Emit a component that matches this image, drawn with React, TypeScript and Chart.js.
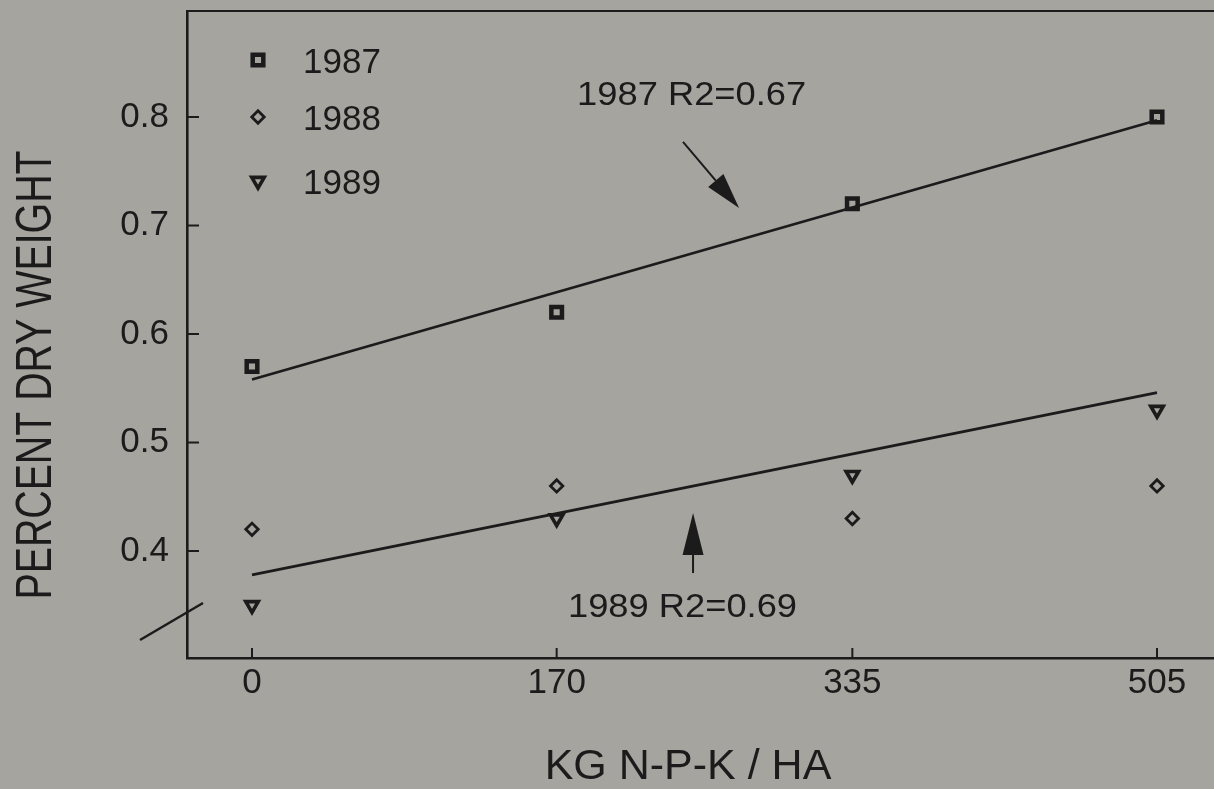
import React, { useEffect, useRef } from 'react';
import { Chart, registerables } from 'chart.js';
import { drawPoint } from 'chart.js/helpers';

Chart.register(...registerables);

// Fertilizer rates (kg N-P-K / ha) and dry-weight percentages per season
const rates = [0, 170, 335, 505];
const years = ['1987', '1988', '1989'];
const dry1987 = [0.57, 0.62, 0.72, 0.80];
const dry1988 = [0.42, 0.46, 0.43, 0.46];
const dry1989 = [0.35, 0.43, 0.47, 0.53];

// Fitted regression lines (value at first and last rate)
const fitRates = [0, 505];
const fit1987 = [0.558, 0.797];
const fit1989 = [0.378, 0.546];
const fitLabels = ['1987 R2=0.67', '1989 R2=0.69'];

const xTicks = [0, 170, 335, 505];
const yTicks = [0.4, 0.5, 0.6, 0.7, 0.8];
const xTitle = 'KG N-P-K / HA';
const yTitle = 'PERCENT DRY WEIGHT';

const INK = '#1b1b1b';
const PAPER = '#a6a49f';
const FONT = '"Liberation Sans", Arial, Helvetica, sans-serif';

const X_MIN = -36.27;
const X_MAX = 536.8;
const Y_MIN = 0.3014;
const Y_MAX = 0.8977;

const markers = [
  { pointStyle: 'rect', radius: 7.5, rotation: 0, borderWidth: 4.5 },
  { pointStyle: 'rectRot', radius: 6.2, rotation: 0, borderWidth: 2.8 },
  { pointStyle: 'triangle', radius: 7.2, rotation: 180, borderWidth: 3.6 },
];

const series = [dry1987, dry1988, dry1989];

function text(
  ctx: CanvasRenderingContext2D,
  str: string,
  x: number,
  y: number,
  size: number,
  align: CanvasTextAlign,
  sx = 1,
  rot = 0
) {
  ctx.save();
  ctx.translate(x, y);
  if (rot) ctx.rotate(rot);
  ctx.scale(sx, 1);
  ctx.font = `${size}px ${FONT}`;
  ctx.fillStyle = INK;
  ctx.textAlign = align;
  ctx.textBaseline = 'alphabetic';
  // baseline placed so that cap height is centred on y
  ctx.fillText(str, 0, size * 0.358);
  ctx.restore();
}

function arrow(
  ctx: CanvasRenderingContext2D,
  x0: number,
  y0: number,
  x1: number,
  y1: number,
  head: number,
  half: number
) {
  const a = Math.atan2(y1 - y0, x1 - x0);
  const bx = x1 - Math.cos(a) * head;
  const by = y1 - Math.sin(a) * head;
  ctx.beginPath();
  ctx.moveTo(x0, y0);
  ctx.lineTo(bx, by);
  ctx.stroke();
  ctx.beginPath();
  ctx.moveTo(x1, y1);
  ctx.lineTo(bx + Math.sin(a) * half, by - Math.cos(a) * half);
  ctx.lineTo(bx - Math.sin(a) * half, by + Math.cos(a) * half);
  ctx.closePath();
  ctx.fill();
}

const noPadding = (s: any) => {
  s.paddingTop = 0;
  s.paddingBottom = 0;
  s.paddingLeft = 0;
  s.paddingRight = 0;
};

const decorations = {
  id: 'decorations',
  afterDraw(chart: any) {
    const { ctx, chartArea: area, scales } = chart;
    const xs = scales.x;
    const ys = scales.y;
    const px = (v: number) => xs.getPixelForValue(v);
    const py = (v: number) => ys.getPixelForValue(v);

    ctx.save();
    ctx.strokeStyle = INK;
    ctx.fillStyle = INK;
    ctx.lineCap = 'butt';

    // top frame line
    ctx.lineWidth = 2;
    ctx.beginPath();
    ctx.moveTo(area.left, area.top);
    ctx.lineTo(area.right, area.top);
    ctx.stroke();

    // inward tick marks
    ctx.lineWidth = 2;
    yTicks.forEach((v) => {
      ctx.beginPath();
      ctx.moveTo(area.left, py(v));
      ctx.lineTo(area.left + 12, py(v));
      ctx.stroke();
    });
    xTicks.forEach((v) => {
      ctx.beginPath();
      ctx.moveTo(px(v), area.bottom);
      ctx.lineTo(px(v), area.bottom - 10);
      ctx.stroke();
    });

    // axis break mark
    ctx.lineWidth = 2.5;
    ctx.beginPath();
    ctx.moveTo(area.left - 47, area.bottom - 18);
    ctx.lineTo(area.left + 16, area.bottom - 55);
    ctx.stroke();

    // regression annotations
    ctx.lineWidth = 2;
    arrow(ctx, px(240.5), py(0.777), px(271.8), py(0.7161), 36, 10);
    arrow(ctx, px(246.1), py(0.3797), px(246.1), py(0.435), 42, 10.5);
    text(ctx, fitLabels[0], px(181.4), py(0.8221), 33, 'left', 1.1);
    text(ctx, fitLabels[1], px(176.3), py(0.3502), 33, 'left', 1.1);

    // legend
    const legendY = [60, 117, 181];
    years.forEach((yr, i) => {
      ctx.save();
      ctx.strokeStyle = INK;
      ctx.fillStyle = PAPER;
      ctx.lineWidth = markers[i].borderWidth;
      ctx.lineJoin = 'miter';
      drawPoint(ctx, markers[i] as any, area.left + 71, legendY[i]);
      ctx.restore();
      text(ctx, yr, area.left + 116, legendY[i], 35, 'left');
    });

    // axis titles
    text(ctx, xTitle, 688, 764, 43, 'center');
    text(ctx, yTitle, 33, 375, 50, 'center', 0.786, -Math.PI / 2);

    ctx.restore();
  },
};

export default function App() {
  const ref = useRef<HTMLCanvasElement | null>(null);

  useEffect(() => {
    const canvas = ref.current;
    if (!canvas) return;

    const lineSet = (label: string, vals: number[]) => ({
      type: 'line' as const,
      label,
      data: fitRates.map((x, i) => ({ x, y: vals[i] })),
      borderColor: INK,
      borderWidth: 2.6,
      pointRadius: 0,
      fill: false,
      tension: 0,
    });

    const pointSet = (i: number) => ({
      type: 'scatter' as const,
      label: years[i],
      data: rates.map((x, j) => ({ x, y: series[i][j] })),
      pointStyle: markers[i].pointStyle,
      pointRadius: markers[i].radius,
      pointRotation: markers[i].rotation,
      pointBorderWidth: markers[i].borderWidth,
      borderWidth: markers[i].borderWidth,
      borderColor: INK,
      backgroundColor: PAPER,
      pointBackgroundColor: PAPER,
      pointBorderColor: INK,
    });

    const chart = new Chart(canvas, {
      type: 'scatter',
      data: {
        datasets: [
          lineSet('fit 1987', fit1987),
          lineSet('fit 1989', fit1989),
          pointSet(0),
          pointSet(1),
          pointSet(2),
        ] as any,
      },
      options: {
        responsive: false,
        animation: false,
        devicePixelRatio: 1,
        layout: { autoPadding: false, padding: { top: 11, left: 0, right: 0, bottom: 0 } },
        plugins: { legend: { display: false }, tooltip: { enabled: false } },
        elements: { point: { hoverRadius: 0 } },
        scales: {
          x: {
            type: 'linear',
            min: X_MIN,
            max: X_MAX,
            afterBuildTicks: (s: any) => {
              s.ticks = xTicks.map((v) => ({ value: v }));
            },
            afterFit: (s: any) => {
              s.height = 131;
              noPadding(s);
            },
            grid: { display: false, drawTicks: false },
            border: { display: true, color: INK, width: 2.6 },
            ticks: {
              color: INK,
              font: { family: FONT, size: 35, lineHeight: 1 },
              padding: 8,
              maxRotation: 0,
              autoSkip: false,
              callback: (v: any) => String(v),
            },
          },
          y: {
            type: 'linear',
            min: Y_MIN,
            max: Y_MAX,
            afterBuildTicks: (s: any) => {
              s.ticks = yTicks.map((v) => ({ value: v }));
            },
            afterFit: (s: any) => {
              s.width = 187;
              noPadding(s);
            },
            grid: { display: false, drawTicks: false },
            border: { display: true, color: INK, width: 2.6 },
            ticks: {
              color: INK,
              font: { family: FONT, size: 35, lineHeight: 1 },
              padding: 18,
              autoSkip: false,
              callback: (v: any) => Number(v).toFixed(1),
            },
          },
        },
      } as any,
      plugins: [decorations],
    });

    return () => chart.destroy();
  }, []);

  return (
    <div
      style={{
        position: 'absolute',
        left: 0,
        top: 0,
        width: 1214,
        height: 789,
        background: PAPER,
        overflow: 'hidden',
      }}
    >
      <canvas ref={ref} width={1214} height={789} style={{ display: 'block' }} />
    </div>
  );
}
